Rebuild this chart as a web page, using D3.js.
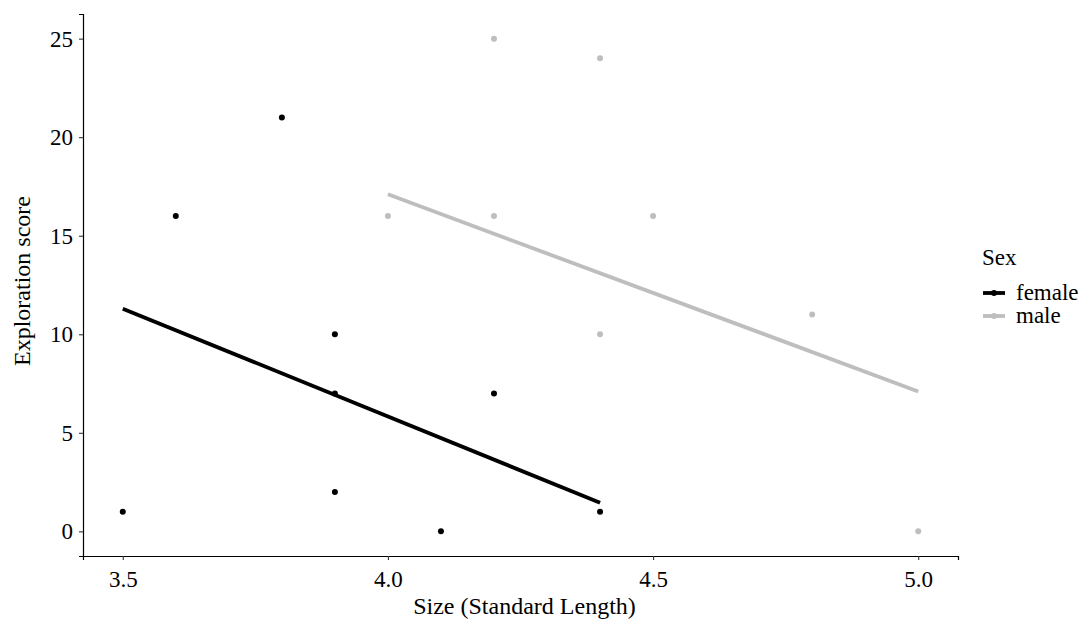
<!DOCTYPE html>
<html>
<head>
<meta charset="utf-8">
<style>
  body { margin: 0; background: #fff; }
  svg text { font-family: "Liberation Serif", "Times New Roman", serif !important; }
</style>
</head>
<body>
<svg width="1083" height="619"></svg>
<script src="https://d3js.org/d3.v7.min.js"></script>
<script>

// data
const femaleSize  = [3.5, 3.6, 3.8, 3.9, 3.9, 3.9, 4.1, 4.2, 4.4];
const femaleScore = [1, 16, 21, 10, 7, 2, 0, 7, 1];
const maleSize    = [4.0, 4.2, 4.2, 4.4, 4.4, 4.5, 4.8, 5.0];
const maleScore   = [16, 25, 16, 24, 10, 16, 11, 0];

// fitted lines (end points as drawn)
const femaleFitX = [3.5, 4.4];
const femaleFitY = [11.3, 1.45];
const maleFitX   = [4.0, 5.0];
const maleFitY   = [17.1, 7.1];

const sexes   = ["female", "male"];
const colours = ["#000000", "#bebebe"];
const xTicks  = [3.5, 4.0, 4.5, 5.0];
const yTicks  = [0, 5, 10, 15, 20, 25];

const svg = d3.select("svg");
const padLeft = 83, padRight = 958, padTop = 14, padBottom = 556;

const x = d3.scaleLinear().domain([3.425, 5.075]).range([padLeft, padRight]);
const y = d3.scaleLinear().domain([-1.25, 26.25]).range([padBottom, padTop]);
const colour = d3.scaleOrdinal().domain(sexes).range(colours);

// axes
const xAxis = svg.append("g")
    .attr("transform", "translate(0," + padBottom + ")")
    .call(d3.axisBottom(x).tickValues(xTicks).tickFormat(d3.format(".1f")).tickSizeOuter(0).tickSize(4).tickPadding(6));
const yAxis = svg.append("g")
    .attr("transform", "translate(" + padLeft + ",0)")
    .call(d3.axisLeft(y).tickValues(yTicks).tickSizeOuter(0).tickSize(4).tickPadding(6));

[xAxis, yAxis].forEach(function(a) {
  a.attr("font-family", "Liberation Serif").attr("font-size", 23);
  a.select(".domain").attr("stroke", "#000").attr("stroke-width", 1.2);
  a.selectAll(".tick line").attr("stroke", "#333").attr("stroke-width", 1.1);
  a.selectAll(".tick text").attr("fill", "#000");
});
xAxis.selectAll(".tick text").attr("dy", "0.9em");

// axis titles
svg.append("text")
    .attr("x", (padLeft + padRight) / 2 + 4)
    .attr("y", 614)
    .attr("text-anchor", "middle")
    .style("font-size", "24px")
    .attr("fill", "#000")
    .text("Size (Standard Length)");

svg.append("text")
    .attr("transform", "translate(30," + 281 + ") rotate(-90)")
    .attr("text-anchor", "middle")
    .style("font-size", "24px")
    .attr("fill", "#000")
    .text("Exploration score");

// points
const groups = [
  {sex: "female", xs: femaleSize, ys: femaleScore, fx: femaleFitX, fy: femaleFitY},
  {sex: "male", xs: maleSize, ys: maleScore, fx: maleFitX, fy: maleFitY}
];

const line = d3.line().x(function(d) { return x(d[0]); }).y(function(d) { return y(d[1]); });

groups.forEach(function(g) {
  svg.append("g").selectAll("circle")
    .data(d3.zip(g.xs, g.ys))
    .enter().append("circle")
    .attr("cx", function(d) { return x(d[0]); })
    .attr("cy", function(d) { return y(d[1]); })
    .attr("r", 3)
    .attr("fill", colour(g.sex));
});

groups.forEach(function(g) {
  svg.append("path")
    .datum(d3.zip(g.fx, g.fy))
    .attr("d", line)
    .attr("fill", "none")
    .attr("stroke", colour(g.sex))
    .attr("stroke-width", 3.8);
});

// legend
const legend = svg.append("g").attr("transform", "translate(982,0)");
legend.append("text")
    .attr("x", 0).attr("y", 265)
    .style("font-size", "23px")
    .text("Sex");

const item = legend.selectAll(".item")
    .data(sexes)
    .enter().append("g")
    .attr("transform", function(d, i) { return "translate(0," + (293 + i * 23) + ")"; });
item.append("line")
    .attr("x1", 1).attr("x2", 23)
    .attr("stroke", function(d) { return colour(d); })
    .attr("stroke-width", 3.8);
item.append("circle")
    .attr("cx", 12).attr("r", 3)
    .attr("fill", function(d) { return colour(d); });
item.append("text")
    .attr("x", 34).attr("y", 7)
    .style("font-size", "23px")
    .text(function(d) { return d; });

</script>
</body>
</html>
